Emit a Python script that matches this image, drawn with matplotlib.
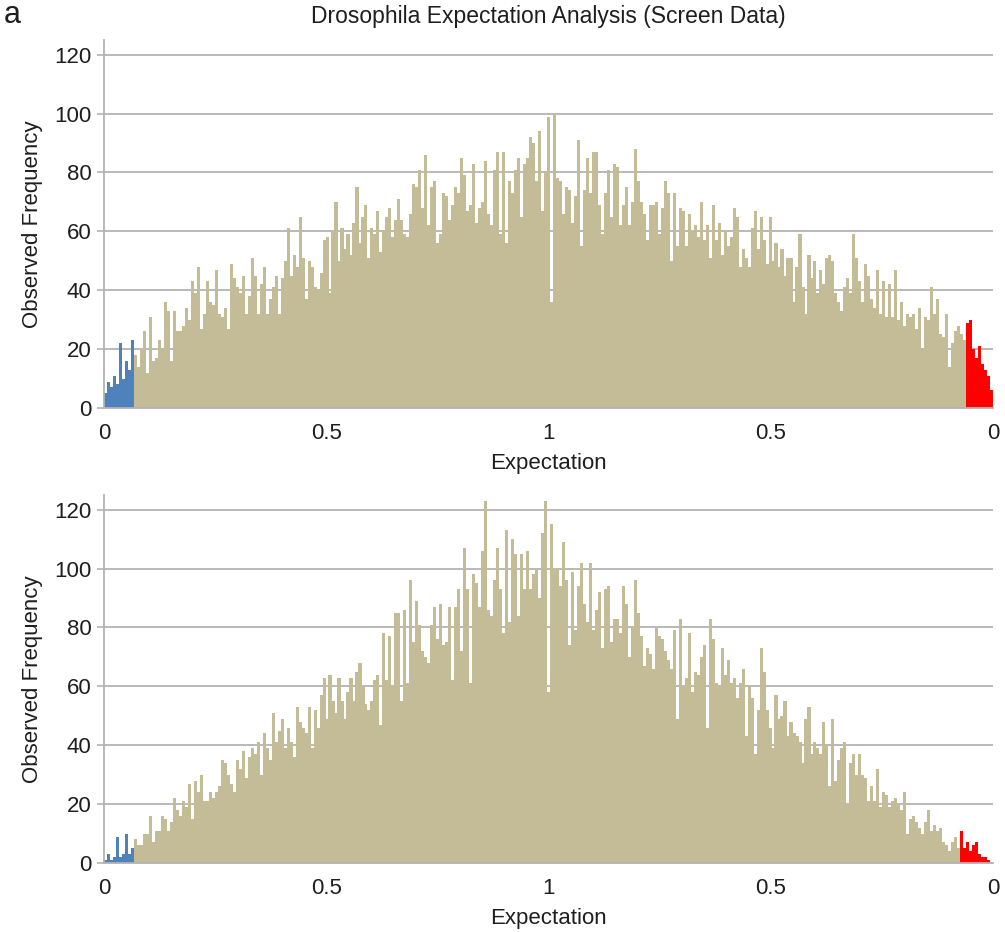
import numpy as np
import matplotlib.pyplot as plt

plt.rcParams['font.family'] = ['Liberation Sans', 'DejaVu Sans']

# ---- data (bars from left to right) ----
# top panel: screen data
top_blue = [5, 9, 7, 11, 8, 22, 10, 16, 13, 23]
top_mid = [
    18, 14, 20, 26, 12, 31, 16, 17, 23, 20, 36, 33, 16, 33, 26, 26, 28, 34, 30, 43,
    39, 48, 27, 32, 43, 36, 35, 47, 32, 31, 34, 27, 49, 44, 41, 39, 45, 32, 38, 51,
    45, 32, 42, 48, 32, 37, 41, 45, 32, 44, 50, 61, 45, 52, 48, 65, 51, 37, 50, 48,
    41, 40, 46, 57, 58, 39, 60, 70, 50, 61, 54, 59, 52, 63, 75, 56, 65, 69, 51, 61,
    59, 67, 53, 60, 65, 68, 58, 64, 71,
    64, 59, 58, 66, 76, 75, 81, 68, 86, 62, 75, 77, 56, 59, 73, 72, 64, 69, 75, 73,
    85, 79, 67, 69, 83, 63, 68, 70, 84, 66, 62, 81, 87, 59, 87, 56, 77, 73, 81, 85,
    65, 83, 85, 92, 90, 77, 94, 67, 80, 99, 36, 100, 78, 77, 66, 75, 74, 63, 72, 91,
    55, 74, 85, 73, 87, 87, 69, 59, 73, 81, 65, 83, 82, 62, 69, 75, 62, 70, 88, 77,
    70, 66, 57, 69, 69, 70, 59, 68, 77, 73, 50, 73, 55, 68, 67, 55, 66, 60, 62, 58,
    70, 57, 62, 51, 69, 57, 63, 52, 60, 55, 58, 68, 65, 48, 54, 51, 48, 61, 67, 54,
    65, 57, 49, 65, 50, 56, 48, 54, 45, 51, 51, 36, 48, 59, 41, 32, 52, 44, 50, 39,
    47, 42, 51, 52, 50, 39, 36, 33, 41, 44, 39, 59, 51, 43, 36, 49, 45, 37, 34, 47,
    32, 43, 31, 42, 31, 47, 30, 36, 28, 32, 31, 32, 27, 34, 20, 31, 30, 41, 32, 37,
    25, 24, 32, 14, 22, 26, 28, 25, 23,
]
top_red = [29, 30, 20, 17, 21, 15, 13, 11, 6]

# bottom panel
bot_blue = [1, 3, 1, 2, 9, 2, 3, 10, 3, 5]
bot_mid = [
    8, 6, 6, 10, 10, 16, 7, 11, 11, 16, 15, 11, 14, 22, 18, 16, 21, 19, 27, 15,
    28, 24, 30, 21, 21, 24, 22, 24, 26, 35, 34, 30, 27, 24, 35, 32, 38, 29, 36, 39,
    37, 41, 30, 44, 39, 35, 51, 41, 45, 49, 39, 46, 41, 36, 53, 48, 46, 44, 53, 39,
    52, 46, 57, 63, 49, 64, 55, 51, 63, 55, 49, 58, 63, 55, 65, 68, 60, 54, 52, 55,
    62, 64, 47, 78, 62, 77, 60, 85, 85, 55,
    86, 61, 96, 75, 89, 81, 72, 70, 68, 81, 87, 76, 88, 74, 75, 87, 62, 87, 93, 72,
    107, 93, 61, 98, 95, 87, 106, 123, 86, 84, 96, 107, 93, 78, 113, 82, 110, 105, 84, 105,
    93, 106, 93, 98, 100, 90, 112, 123, 58, 115, 100, 100, 94, 109, 96, 74, 99, 79, 94, 102,
    88, 82, 102, 79, 86, 92, 73, 93, 94, 75, 83, 83, 78, 94, 88, 70, 80, 96, 85, 77,
    67, 73, 71, 66, 80, 77, 76, 72, 69, 66, 79, 49, 83, 60, 63, 78, 58, 65, 64, 70,
    74, 46, 83, 76, 61, 60, 73, 64, 69, 61, 63, 56, 61, 66, 43, 60, 56, 37, 52, 73,
    65, 52, 46, 39, 57, 49, 50, 55, 43, 48, 44, 43, 41, 34, 49, 53, 37, 41, 39, 37,
    48, 40, 26, 49, 28, 35, 39, 41, 20, 34, 37, 30, 37, 30, 29, 21, 26, 21, 32, 19,
    24, 23, 19, 21, 22, 20, 18, 24, 10, 15, 16, 14, 12, 10, 14, 18, 11, 13, 11, 12,
    7, 6, 4, 7, 9, 5,
]
bot_red = [11, 5, 7, 4, 6, 7, 3, 2, 2, 1]

x_ticks = [0, 0.5, 1, 1.5, 2]
x_ticklabels = ['0', '0.5', '1', '0.5', '0']
y_ticks = [0, 20, 40, 60, 80, 100, 120]

TAN = '#C4BC96'
BLUE = '#4F81BD'
RED = '#FF0000'
GREY = '#B3B3B3'
TXT = '#1E1E1E'
N_BINS = 297


def draw(ax, blue, mid, red):
    heights = blue + mid + red
    colors = [BLUE] * len(blue) + [TAN] * len(mid) + [RED] * len(red)
    bw = 2 / N_BINS
    x = np.arange(len(heights)) * bw
    ax.bar(x, heights, width=bw * 1.03, align='edge', color=colors, linewidth=0)

    ax.set_xlim(0, 2)
    ax.set_ylim(0, 125)
    ax.set_yticks(y_ticks)
    ax.set_xticks(x_ticks)
    ax.set_xticklabels(x_ticklabels)
    ax.grid(axis='y', color=GREY, lw=1.3)
    ax.set_axisbelow(True)
    for s in ['top', 'right']:
        ax.spines[s].set_visible(False)
    for s in ['left', 'bottom']:
        ax.spines[s].set_color(GREY)
        ax.spines[s].set_linewidth(1.3)
    ax.tick_params(axis='y', length=5, width=1.2, color=GREY, pad=4,
                   labelsize=16, labelcolor=TXT)
    ax.tick_params(axis='x', length=0, pad=11, labelsize=16, labelcolor=TXT)
    ax.set_xlabel('Expectation', fontsize=16, color=TXT, labelpad=6)
    ax.set_ylabel('Observed Frequency', fontsize=16, color=TXT, labelpad=8)


fig = plt.figure(figsize=(10.05, 9.32), dpi=100)
ax_top = fig.add_axes([104 / 1005, 1 - 408 / 932, 889 / 1005, 368 / 932])
ax_bot = fig.add_axes([104 / 1005, 1 - 863 / 932, 889 / 1005, 368 / 932])

draw(ax_top, top_blue, top_mid, top_red)
draw(ax_bot, bot_blue, bot_mid, bot_red)

fig.text(548 / 1005, 1 - 16 / 932, 'Drosophila Expectation Analysis (Screen Data)',
         ha='center', va='center', fontsize=16.5, color=TXT)
# panel letter in the top-left corner
fig.text(0.004, 1.0, 'a', ha='left', va='top', fontsize=22, color=TXT)

fig.savefig('out.png', dpi=100)
